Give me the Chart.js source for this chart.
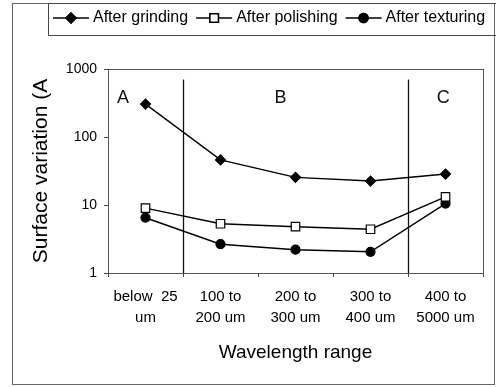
<!DOCTYPE html>
<html><head><meta charset="utf-8">
<script src="https://cdn.jsdelivr.net/npm/chart.js@4"></script>
<style>html,body{margin:0;padding:0;background:#fff}#wrap{width:496px;height:387px}</style>
</head><body><div id="wrap"><canvas id="c" width="496" height="387"></canvas></div>
<script>
const categories = [['below  25', 'um'], ['100 to', '200 um'], ['200 to', '300 um'], ['300 to', '400 um'], ['400 to', '5000 um']];
const afterGrinding = [305, 46, 25.5, 22.5, 28.5];
const afterPolishing = [9, 5.3, 4.8, 4.4, 13.2];
const afterTexturing = [6.5, 2.65, 2.2, 2.05, 10.5];
const yTicks = [1, 10, 100, 1000];
const regionLabels = ['A', 'B', 'C'];
const regionLabelIndex = [-0.3, 1.8, 3.97];
const regionLabelValue = 375;
const regionDividers = [0.5, 3.5];
const dividerTopValue = 700;
const seriesNames = ['After grinding', 'After polishing', 'After texturing'];

const FONT = 'Arial, "Liberation Sans", Helvetica, sans-serif';

const decor = {
  id: 'decor',
  beforeDatasetsDraw(chart) {
    const {ctx, chartArea: a, scales: {x, y}} = chart;
    ctx.save();
    ctx.strokeStyle = '#111';
    ctx.lineWidth = 1.3;
    regionDividers.forEach(v => {
      const px = Math.round(x.getPixelForValue(v)) + 0.5;
      ctx.beginPath();
      ctx.moveTo(px, y.getPixelForValue(dividerTopValue));
      ctx.lineTo(px, a.bottom);
      ctx.stroke();
    });
    ctx.fillStyle = '#111';
    ctx.font = '18px ' + FONT;
    ctx.textAlign = 'center';
    ctx.textBaseline = 'middle';
    regionLabels.forEach((t, i) => {
      ctx.fillText(t, x.getPixelForValue(regionLabelIndex[i]), y.getPixelForValue(regionLabelValue));
    });
    ctx.restore();
  },
  afterDraw(chart) {
    const {ctx, chartArea: a} = chart;
    ctx.save();
    ctx.strokeStyle = '#555';
    ctx.lineWidth = 1;
    ctx.strokeRect(Math.round(a.left) + 0.5, Math.round(a.top) + 0.5, Math.round(a.right - a.left), Math.round(a.bottom - a.top));
    ctx.strokeStyle = '#666';
    ctx.strokeRect(12.5, 3.5, 482, 381);
    ctx.strokeStyle = '#444';
    ctx.beginPath();
    ctx.moveTo(510, 3.5); ctx.lineTo(48.5, 3.5); ctx.lineTo(48.5, 35.5); ctx.lineTo(510, 35.5);
    ctx.stroke();
    ctx.font = '16px ' + FONT;
    ctx.textBaseline = 'middle';
    ctx.textAlign = 'left';
    let xPos = 53;
    const yc = 18;
    chart.data.datasets.forEach((ds, i) => {
      ctx.strokeStyle = '#000';
      ctx.lineWidth = 1.5;
      ctx.beginPath();
      ctx.moveTo(xPos, yc); ctx.lineTo(xPos + 36, yc);
      ctx.stroke();
      Chart.helpers.drawPoint(ctx, {
        pointStyle: ds.pointStyle, radius: ds.pointRadius, borderWidth: 1.2, rotation: 0
      }, xPos + 18, yc);
      ctx.fillStyle = ds.pointBackgroundColor;
      ctx.strokeStyle = '#000';
      ctx.fill();
      ctx.stroke();
      ctx.fillStyle = '#000';
      const tx = xPos + 40;
      ctx.fillText(ds.label, tx, yc);
      xPos = tx + ctx.measureText(ds.label).width + 8;
    });
    ctx.restore();
  }
};

const common = {borderColor: '#000', borderWidth: 1.4, pointBorderColor: '#000', pointBorderWidth: 1.2, tension: 0};

new Chart(document.getElementById('c'), {
  type: 'line',
  data: {
    labels: categories,
    datasets: [
      Object.assign({label: seriesNames[0], data: afterGrinding, pointStyle: 'rectRot', pointRadius: 5, pointBackgroundColor: '#000'}, common),
      Object.assign({label: seriesNames[1], data: afterPolishing, pointStyle: 'rect', pointRadius: 6, pointBackgroundColor: '#fff'}, common),
      Object.assign({label: seriesNames[2], data: afterTexturing, pointStyle: 'circle', pointRadius: 4.5, pointBackgroundColor: '#000'}, common)
    ]
  },
  options: {
    responsive: false,
    animation: false,
    devicePixelRatio: 1,
    layout: {padding: {left: 0, right: 13, top: 69, bottom: 0}},
    plugins: {legend: {display: false}, tooltip: {enabled: false}},
    scales: {
      x: {
        type: 'category',
        offset: true,
        afterFit(s) { s.height = 114; },
        grid: {display: true, offset: true, drawOnChartArea: false, drawTicks: true, tickLength: 4, color: '#444'},
        border: {display: false},
        ticks: {color: '#000', font: {family: FONT, size: 15, lineHeight: 1.37}, padding: 10, maxRotation: 0, autoSkip: false},
        title: {display: true, text: 'Wavelength range', color: '#000', font: {family: FONT, size: 19}, padding: {top: 0, bottom: 23}}
      },
      y: {
        type: 'logarithmic',
        min: 1, max: 1000,
        afterFit(s) { s.width = 108; },
        afterBuildTicks(s) { s.ticks = yTicks.map(v => ({value: v})); },
        grid: {display: true, drawOnChartArea: false, drawTicks: true, tickLength: 4, color: '#444'},
        border: {display: false},
        ticks: {color: '#000', font: {family: FONT, size: 14}, padding: 7, callback: v => String(v)},
        title: {display: true, text: 'Surface variation (A', color: '#000', font: {family: FONT, size: 21}, padding: {top: 29, bottom: 0}}
      }
    }
  },
  plugins: [decor]
});
</script>
</body></html>
